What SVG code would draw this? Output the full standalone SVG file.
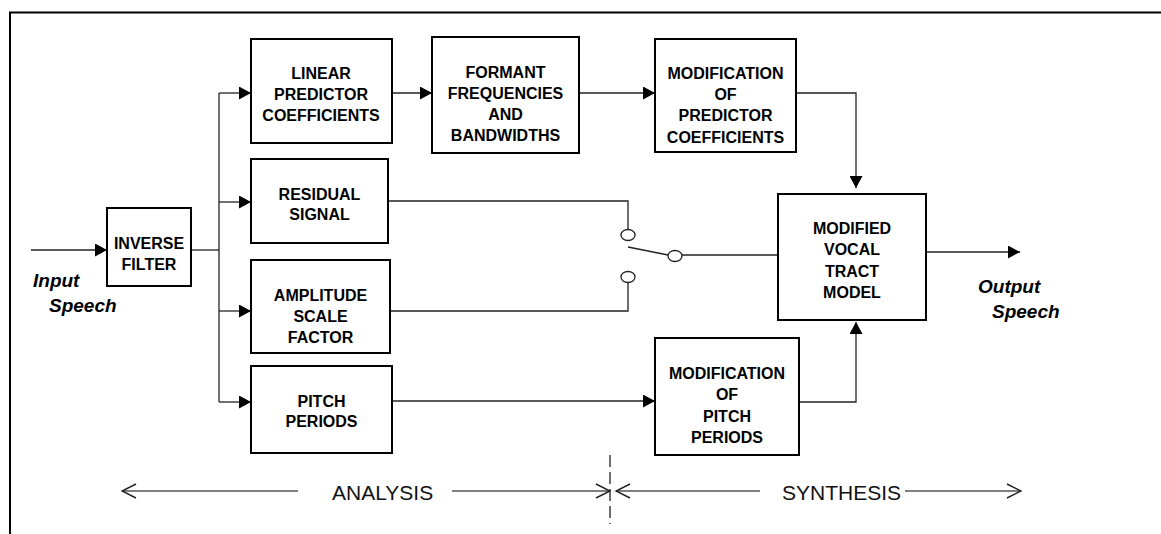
<svg xmlns="http://www.w3.org/2000/svg" width="1161" height="534" viewBox="0 0 1161 534">
<style>
.box{fill:#fff;stroke:#000;stroke-width:2}
.lbl{font-family:"Liberation Sans",Arial,sans-serif;font-weight:bold;font-size:16px;text-anchor:middle;fill:#000}
.it{font-family:"Liberation Sans",Arial,sans-serif;font-weight:bold;font-style:italic;font-size:19px;fill:#000}
.big{font-family:"Liberation Sans",Arial,sans-serif;font-size:21px;fill:#111}
.c{fill:none;stroke:#222;stroke-width:1.3}
.sw{fill:#fff;stroke:#222;stroke-width:1.3}
.g{fill:none;stroke:#555;stroke-width:1.6}
</style>
<defs>
<marker id="arr" viewBox="0 0 12 13" refX="12" refY="6.5" markerWidth="12" markerHeight="13" orient="auto" markerUnits="userSpaceOnUse"><path d="M0,0 L12,6.5 L0,13 z" fill="#000"/></marker>
<marker id="open" viewBox="0 0 16 16" refX="15" refY="8" markerWidth="16" markerHeight="16" orient="auto" markerUnits="userSpaceOnUse"><path d="M1,1 L15,8 L1,15" fill="none" stroke="#222" stroke-width="1.4"/></marker>
</defs>
<rect width="1161" height="534" fill="#fff"/>
<path d="M10,534 V12.5 H1161" fill="none" stroke="#000" stroke-width="2"/>

<g id="connectors">
<path class="c" d="M31,250 H107" marker-end="url(#arr)"/>
<path class="c" d="M191,250 H219"/>
<path class="c" d="M219,93 V402"/>
<path class="c" d="M219,93 H251" marker-end="url(#arr)"/>
<path class="c" d="M219,202 H251" marker-end="url(#arr)"/>
<path class="c" d="M219,311 H251" marker-end="url(#arr)"/>
<path class="c" d="M219,402 H251" marker-end="url(#arr)"/>
<path class="c" d="M392,93 H432" marker-end="url(#arr)"/>
<path class="c" d="M579,93 H655" marker-end="url(#arr)"/>
<path class="c" d="M796,93 H856 V188" marker-end="url(#arr)"/>
<path class="c" d="M388,201 H628 V229.5"/>
<path class="c" d="M628,282.5 V311 H390"/>
<path class="c" d="M628,247 L668,255"/>
<path class="c" d="M682,255 H778"/>
<ellipse class="sw" cx="628" cy="235" rx="7" ry="5.5"/>
<ellipse class="sw" cx="628" cy="277" rx="7" ry="5.5"/>
<ellipse class="sw" cx="675" cy="256" rx="7" ry="5.5"/>
<path class="c" d="M926,252 H1020" marker-end="url(#arr)"/>
<path class="c" d="M392,401 H655" marker-end="url(#arr)"/>
<path class="c" d="M799,402 H856 V322" marker-end="url(#arr)"/>
<path d="M610,455 V524" fill="none" stroke="#222" stroke-width="1.3" stroke-dasharray="12,5"/>
<path class="g" d="M298,491 H122" marker-end="url(#open)"/>
<path class="g" d="M452,491 H610" marker-end="url(#open)"/>
<path class="g" d="M760,491 H616" marker-end="url(#open)"/>
<path class="g" d="M905,491 H1021" marker-end="url(#open)"/>
</g>

<g id="inverse-filter">
<rect class="box" x="107" y="208" width="84" height="78"/>
<text class="lbl" x="149" y="249">INVERSE</text>
<text class="lbl" x="149" y="270">FILTER</text>
</g>
<g id="linear-predictor">
<rect class="box" x="251" y="39" width="141" height="104"/>
<text class="lbl" x="321" y="79">LINEAR</text>
<text class="lbl" x="321" y="100">PREDICTOR</text>
<text class="lbl" x="321" y="121">COEFFICIENTS</text>
</g>
<g id="residual-signal">
<rect class="box" x="251" y="159" width="137" height="84"/>
<text class="lbl" x="319.5" y="200">RESIDUAL</text>
<text class="lbl" x="319.5" y="220">SIGNAL</text>
</g>
<g id="amplitude-scale">
<rect class="box" x="251" y="260" width="139" height="93"/>
<text class="lbl" x="320.5" y="301">AMPLITUDE</text>
<text class="lbl" x="320.5" y="321.5">SCALE</text>
<text class="lbl" x="320.5" y="342.5">FACTOR</text>
</g>
<g id="pitch-periods">
<rect class="box" x="251" y="366" width="141" height="87"/>
<text class="lbl" x="321.5" y="406.5">PITCH</text>
<text class="lbl" x="321.5" y="427">PERIODS</text>
</g>
<g id="formant">
<rect class="box" x="432" y="37" width="147" height="116"/>
<text class="lbl" x="505.5" y="77.5">FORMANT</text>
<text class="lbl" x="505.5" y="99">FREQUENCIES</text>
<text class="lbl" x="505.5" y="120">AND</text>
<text class="lbl" x="505.5" y="141">BANDWIDTHS</text>
</g>
<g id="mod-predictor">
<rect class="box" x="655" y="39" width="141" height="113"/>
<text class="lbl" x="725.5" y="79">MODIFICATION</text>
<text class="lbl" x="725.5" y="100">OF</text>
<text class="lbl" x="725.5" y="121">PREDICTOR</text>
<text class="lbl" x="725.5" y="142.5">COEFFICIENTS</text>
</g>
<g id="vocal-tract">
<rect class="box" x="778" y="194" width="148" height="126"/>
<text class="lbl" x="852" y="234">MODIFIED</text>
<text class="lbl" x="852" y="255">VOCAL</text>
<text class="lbl" x="852" y="276.5">TRACT</text>
<text class="lbl" x="852" y="298">MODEL</text>
</g>
<g id="mod-pitch">
<rect class="box" x="655" y="338" width="144" height="117"/>
<text class="lbl" x="727" y="378.5">MODIFICATION</text>
<text class="lbl" x="727" y="400">OF</text>
<text class="lbl" x="727" y="421.5">PITCH</text>
<text class="lbl" x="727" y="442.5">PERIODS</text>
</g>
<g id="labels">
<text class="it" x="33" y="287">Input</text>
<text class="it" x="49" y="312">Speech</text>
<text class="it" x="978" y="293">Output</text>
<text class="it" x="992" y="318">Speech</text>
<text class="big" x="332" y="500">ANALYSIS</text>
<text class="big" x="782" y="500">SYNTHESIS</text>
</g>
</svg>
